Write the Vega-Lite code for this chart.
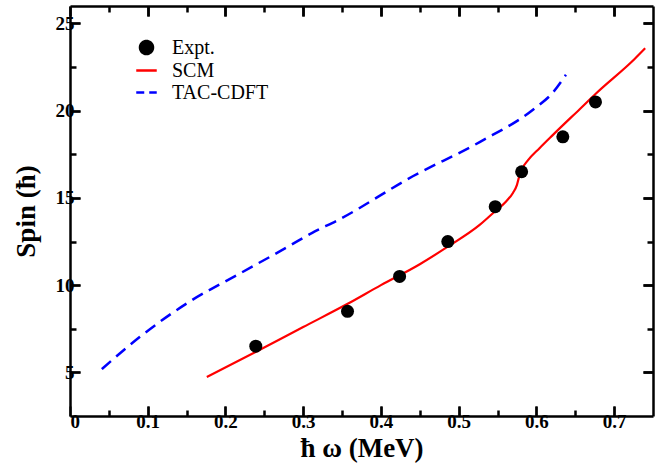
{
  "$schema": "https://vega.github.io/schema/vega-lite/v6.json",
  "autosize": {"type": "none"},
  "padding": {"left": 70, "top": 6, "right": 12, "bottom": 52},
  "width": 583,
  "height": 410,
  "background": "white",
  "config": {
    "view": {"stroke": null, "fill": null},
    "axis": {
      "grid": false,
      "domainColor": "black",
      "domainWidth": 2.5,
      "labelFont": "Liberation Serif",
      "labelFontWeight": "bold",
      "labelFontSize": 19,
      "labelColor": "black",
      "titleFont": "Liberation Serif",
      "titleFontWeight": "bold",
      "titleFontSize": 27,
      "titleColor": "black"
    }
  },
  "datasets": {
    "expt": [
      {"w": 0.239, "spin": 6.5, "series": "Expt."},
      {"w": 0.357, "spin": 8.5, "series": "Expt."},
      {"w": 0.424, "spin": 10.5, "series": "Expt."},
      {"w": 0.486, "spin": 12.5, "series": "Expt."},
      {"w": 0.547, "spin": 14.5, "series": "Expt."},
      {"w": 0.581, "spin": 16.5, "series": "Expt."},
      {"w": 0.634, "spin": 18.5, "series": "Expt."},
      {"w": 0.676, "spin": 20.5, "series": "Expt."}
    ],
    "scm": [
      {"w": 0.176, "spin": 4.73, "series": "SCM"},
      {"w": 0.24, "spin": 6.2, "series": "SCM"},
      {"w": 0.3, "spin": 7.6, "series": "SCM"},
      {"w": 0.356, "spin": 8.9, "series": "SCM"},
      {"w": 0.4, "spin": 10.0, "series": "SCM"},
      {"w": 0.45, "spin": 11.2, "series": "SCM"},
      {"w": 0.484, "spin": 12.15, "series": "SCM"},
      {"w": 0.527, "spin": 13.45, "series": "SCM"},
      {"w": 0.546, "spin": 14.2, "series": "SCM"},
      {"w": 0.561, "spin": 14.8, "series": "SCM"},
      {"w": 0.57, "spin": 15.3, "series": "SCM"},
      {"w": 0.575, "spin": 15.75, "series": "SCM"},
      {"w": 0.578, "spin": 16.25, "series": "SCM"},
      {"w": 0.582, "spin": 16.7, "series": "SCM"},
      {"w": 0.589, "spin": 17.15, "series": "SCM"},
      {"w": 0.604, "spin": 17.85, "series": "SCM"},
      {"w": 0.621, "spin": 18.6, "series": "SCM"},
      {"w": 0.656, "spin": 20.1, "series": "SCM"},
      {"w": 0.677, "spin": 21.0, "series": "SCM"},
      {"w": 0.726, "spin": 22.95, "series": "SCM"},
      {"w": 0.74, "spin": 23.58, "series": "SCM"}
    ],
    "tac": [
      {"w": 0.041, "spin": 5.19, "series": "TAC-CDFT"},
      {"w": 0.09, "spin": 7.04, "series": "TAC-CDFT"},
      {"w": 0.154, "spin": 9.06, "series": "TAC-CDFT"},
      {"w": 0.219, "spin": 10.68, "series": "TAC-CDFT"},
      {"w": 0.276, "spin": 12.09, "series": "TAC-CDFT"},
      {"w": 0.315, "spin": 13.08, "series": "TAC-CDFT"},
      {"w": 0.343, "spin": 13.69, "series": "TAC-CDFT"},
      {"w": 0.441, "spin": 16.24, "series": "TAC-CDFT"},
      {"w": 0.527, "spin": 18.2, "series": "TAC-CDFT"},
      {"w": 0.596, "spin": 20.07, "series": "TAC-CDFT"},
      {"w": 0.621, "spin": 21.03, "series": "TAC-CDFT"},
      {"w": 0.638, "spin": 22.06, "series": "TAC-CDFT"}
    ],
    "none": []
  },
  "layer": [
    {
      "data": {"name": "tac"},
      "mark": {"type": "line", "strokeWidth": 2.5, "strokeDash": [12, 7], "interpolate": "monotone", "clip": true},
      "encoding": {
        "x": {
          "field": "w", "type": "quantitative",
          "scale": {"domain": [0, 0.75], "nice": false, "zero": false},
          "axis": {"orient": "top", "zindex": 1, "labels": false, "title": null, "values": [0, 0.1, 0.2, 0.3, 0.4, 0.5, 0.6, 0.7], "tickSize": -10, "tickColor": "black", "tickWidth": 2.5, "domainColor": "black", "domainWidth": 2.5}
        },
        "y": {
          "field": "spin", "type": "quantitative",
          "scale": {"domain": [2.5, 26], "nice": false, "zero": false},
          "axis": {"orient": "right", "zindex": 1, "labels": false, "title": null, "values": [5, 10, 15, 20, 25], "tickSize": -10, "tickColor": "black", "tickWidth": 2.5, "domainColor": "black", "domainWidth": 2.5}
        },
        "color": {
          "field": "series", "type": "nominal",
          "scale": {"domain": ["Expt.", "SCM", "TAC-CDFT"], "range": ["black", "red", "blue"]},
          "legend": {
            "orient": "none", "legendX": 65, "legendY": 30,
            "title": null,
            "labelFont": "Liberation Serif", "labelFontSize": 20, "labelColor": "black",
            "labelFontWeight": "normal",
            "symbolStrokeWidth": 2.5,
            "rowPadding": 0,
            "labelOffset": 14,
            "encode": {
              "symbols": {
                "update": {
                  "shape": {"signal": "datum.value === 'Expt.' ? 'circle' : 'stroke'"},
                  "size": {"signal": "datum.value === 'Expt.' ? 169 : 420"},
                  "fill": {"signal": "datum.value === 'Expt.' ? 'black' : 'transparent'"},
                  "stroke": {"signal": "datum.value === 'Expt.' ? 'transparent' : (datum.value === 'SCM' ? 'red' : 'blue')"},
                  "strokeDash": {"signal": "datum.value === 'TAC-CDFT' ? [8, 5] : [1, 0]"},
                  "strokeWidth": {"value": 2.5},
                  "opacity": {"value": 1}
                }
              }
            }
          }
        }
      }
    },
    {
      "data": {"name": "scm"},
      "mark": {"type": "line", "strokeWidth": 2.2, "interpolate": "monotone", "clip": true},
      "encoding": {
        "x": {
          "field": "w", "type": "quantitative",
          "axis": {"orient": "top", "zindex": 1, "offset": -6, "labels": false, "title": null, "domain": false, "values": [0.05, 0.15, 0.25, 0.35, 0.45, 0.55, 0.65], "tickSize": 6, "tickColor": "black", "tickWidth": 2.5}
        },
        "y": {
          "field": "spin", "type": "quantitative",
          "axis": {"orient": "right", "zindex": 1, "offset": -6, "labels": false, "title": null, "domain": false, "values": [7.5, 12.5, 17.5, 22.5], "tickSize": 6, "tickColor": "black", "tickWidth": 2.5}
        },
        "color": {"field": "series", "type": "nominal"}
      }
    },
    {
      "data": {"name": "expt"},
      "mark": {"type": "point", "filled": true, "size": 169, "opacity": 1},
      "encoding": {
        "x": {
          "field": "w", "type": "quantitative",
          "title": "ħ ω (MeV)",
          "axis": {
            "orient": "bottom", "zindex": 1,
            "values": [0, 0.1, 0.2, 0.3, 0.4, 0.5, 0.6, 0.7],
            "labelExpr": "datum.value == 0 ? '0' : format(datum.value, '.1f')",
            "ticks": true, "tickSize": -10, "tickColor": "black", "tickWidth": 2,
            "domainColor": "black", "domainWidth": 2.5,
            "labelFont": "Liberation Serif", "labelFontWeight": "bold", "labelFontSize": 19, "labelColor": "black",
            "labelPadding": 6,
            "titleFont": "Liberation Serif", "titleFontWeight": "bold", "titleFontSize": 27, "titleColor": "black",
            "titlePadding": 4
          }
        },
        "y": {
          "field": "spin", "type": "quantitative",
          "title": "Spin (ħ)",
          "axis": {
            "orient": "left", "zindex": 1,
            "values": [5, 10, 15, 20, 25],
            "labelExpr": "format(datum.value, 'd')",
            "ticks": true, "tickSize": -10, "tickColor": "black", "tickWidth": 2,
            "domainColor": "black", "domainWidth": 2.5,
            "labelFont": "Liberation Serif", "labelFontWeight": "bold", "labelFontSize": 19, "labelColor": "black",
            "labelPadding": 6,
            "titleFont": "Liberation Serif", "titleFontWeight": "bold", "titleFontSize": 27, "titleColor": "black",
            "titlePadding": 15
          }
        },
        "color": {"field": "series", "type": "nominal"}
      }
    },
    {
      "data": {"name": "none"},
      "mark": {"type": "rule"},
      "encoding": {
        "x": {
          "field": "w", "type": "quantitative",
          "axis": {"orient": "bottom", "zindex": 1, "offset": -10, "labels": false, "title": null, "domain": false, "values": [0.1, 0.2, 0.3, 0.4, 0.5, 0.6, 0.7], "tickSize": 10, "tickColor": "black", "tickWidth": 2.5}
        },
        "y": {
          "field": "spin", "type": "quantitative",
          "axis": {"orient": "left", "zindex": 1, "offset": -10, "labels": false, "title": null, "domain": false, "values": [5, 10, 15, 20, 25], "tickSize": 10, "tickColor": "black", "tickWidth": 2.5}
        }
      }
    },
    {
      "data": {"name": "none"},
      "mark": {"type": "rule"},
      "encoding": {
        "x": {
          "field": "w", "type": "quantitative",
          "axis": {"orient": "bottom", "zindex": 1, "offset": -6, "labels": false, "title": null, "domain": false, "values": [0.05, 0.15, 0.25, 0.35, 0.45, 0.55, 0.65], "tickSize": 6, "tickColor": "black", "tickWidth": 2.5}
        },
        "y": {
          "field": "spin", "type": "quantitative",
          "axis": {"orient": "left", "zindex": 1, "offset": -6, "labels": false, "title": null, "domain": false, "values": [7.5, 12.5, 17.5, 22.5], "tickSize": 6, "tickColor": "black", "tickWidth": 2.5}
        }
      }
    },
    {
      "data": {"name": "none"},
      "mark": {"type": "rule"},
      "encoding": {
        "x": {
          "field": "w", "type": "quantitative",
          "axis": {"orient": "top", "zindex": 1, "offset": -10, "labels": false, "title": null, "domain": false, "values": [0.1, 0.2, 0.3, 0.4, 0.5, 0.6, 0.7], "tickSize": 10, "tickColor": "black", "tickWidth": 2.5}
        },
        "y": {
          "field": "spin", "type": "quantitative",
          "axis": {"orient": "right", "zindex": 1, "offset": -10, "labels": false, "title": null, "domain": false, "values": [5, 10, 15, 20, 25], "tickSize": 10, "tickColor": "black", "tickWidth": 2.5}
        }
      }
    }
  ],
  "resolve": {"axis": {"x": "independent", "y": "independent"}}
}
